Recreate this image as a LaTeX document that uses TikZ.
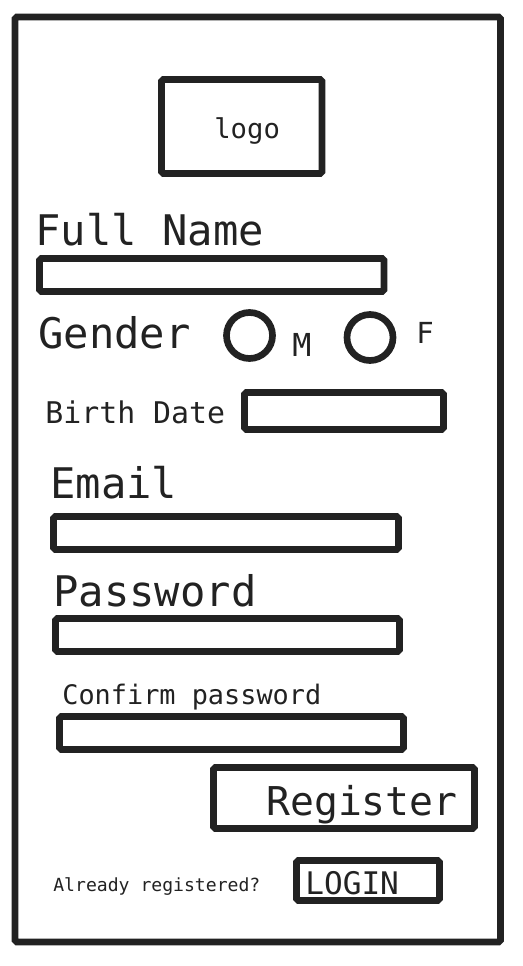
\documentclass[tikz,border=0pt]{standalone}
\usepackage{fontspec}
\setmonofont{DejaVu Sans Mono}
\definecolor{ink}{HTML}{222222}
\newcommand{\fsz}[1]{\ttfamily\fontsize{#1}{#1}\selectfont}
\begin{document}
\begin{tikzpicture}[x=0.02cm, y=-0.02cm,
  frame/.style={draw=ink, line width=3.8pt, rounded corners=1pt},
  lbl/.style={anchor=base west, inner sep=0pt, text=ink}]

\useasboundingbox (0,0) rectangle (522,966);

% outer frame
\draw [frame] (15,17) rectangle (500.5,942);

% logo box
\draw [frame] (161.5,79.5) rectangle (322,173.5);
\node [lbl, font=\fsz{15.5}] (logo) at (214,139) {logo};

% full name
\node [lbl, font=\fsz{24}] (fullname) at (35,245) {Full Name};
\draw [frame] (39.5,258.5) rectangle (384,291.5);

% gender
\node [lbl, font=\fsz{24}] (gender) at (38,348) {Gender};
\draw [frame] (249.5,335.5) circle [radius=23];
\node [lbl, font=\fsz{18}] (male) at (292,356) {M};
\draw [frame] (370,337.5) circle [radius=23];
\node [lbl, font=\fsz{16.5}] (female) at (416,343) {F};

% birth date
\node [lbl, font=\fsz{17}] (birth) at (45,423) {Birth Date};
\draw [frame] (244.5,392.5) rectangle (443.5,429.5);

% email
\node [lbl, font=\fsz{24}] (email) at (50,498) {Email};
\draw [frame] (53.5,516.5) rectangle (398.5,549.5);

% password
\node [lbl, font=\fsz{24}] (password) at (53,606) {Password};
\draw [frame] (55.5,618.5) rectangle (399.5,651.5);

% confirm password
\node [lbl, font=\fsz{15.3}] (confirm) at (62,704) {Confirm password};
\draw [frame] (59.5,716.5) rectangle (403.5,749.5);

% register button
\draw [frame] (213.5,767.5) rectangle (474.5,828.5);
\node [lbl, font=\fsz{22.6}] (register) at (266,815) {Register};

% login
\node [lbl, font=\fsz{10.3}] (already) at (53,891) {Already registered?};
\draw [frame] (296.5,860.5) rectangle (439.5,900.5);
\node [lbl, font=\fsz{17.7}] (login) at (305,894) {LOGIN};

\end{tikzpicture}
\end{document}
